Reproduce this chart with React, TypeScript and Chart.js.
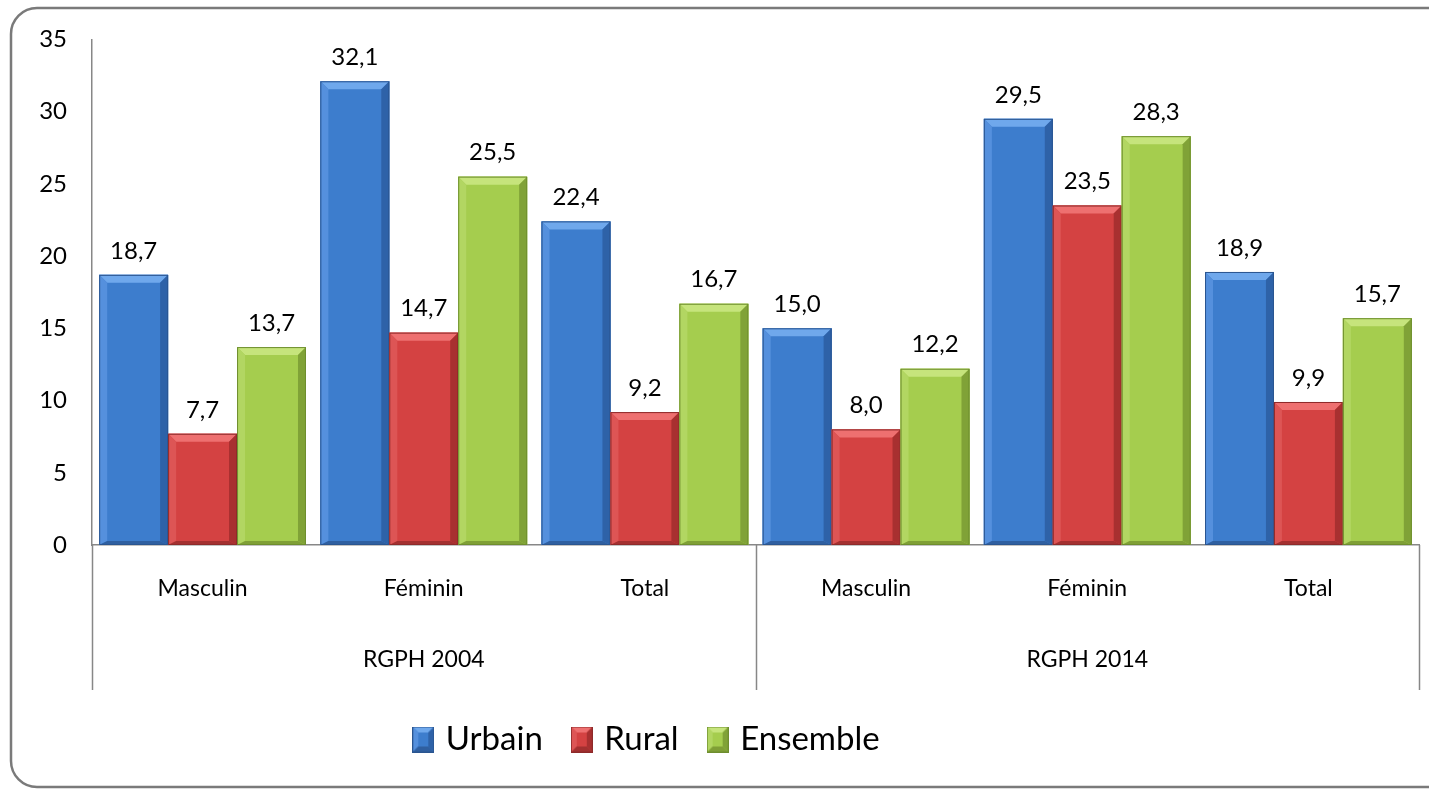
import React, { useEffect, useRef } from "react";
import { Chart, registerables } from "chart.js";

Chart.register(...registerables);

// ---- data ----
const categories = ["Masculin", "Féminin", "Total", "Masculin", "Féminin", "Total"];
const groups = ["RGPH 2004", "RGPH 2014"];
const groupSizes = [3, 3];
const seriesNames = ["Urbain", "Rural", "Ensemble"];
const urbain = [18.7, 32.1, 22.4, 15.0, 29.5, 18.9];
const rural = [7.7, 14.7, 9.2, 8.0, 23.5, 9.9];
const ensemble = [13.7, 25.5, 16.7, 12.2, 28.3, 15.7];
const yMin = 0;
const yMax = 35;
const yStep = 5;

// ---- styles ----
const FONT = "Lato, 'Open Sans', sans-serif";
const palettes = [
  { body: "#3D7DCD", top: "#6FA8EC", left: "#5590DD", right: "#2E62A8", bottom: "#2F5FA0", line: "#2A5590" },
  { body: "#D44242", top: "#EE7070", left: "#DD5555", right: "#A83030", bottom: "#A33030", line: "#8E2A2A" },
  { body: "#A5CD4E", top: "#C6E47C", left: "#B2D662", right: "#80A237", bottom: "#7F9F36", line: "#6E8E2E" },
];

function drawBevel(ctx: CanvasRenderingContext2D, left: number, top: number, right: number, bottom: number, p: any, b: number, bBottom: number) {
  const h = bottom - top;
  const bb = Math.min(b, h / 2, (right - left) / 2);
  const bl = Math.min(bBottom, h / 2);
  ctx.save();
  ctx.fillStyle = p.body;
  ctx.fillRect(left, top, right - left, h);
  // top
  ctx.fillStyle = p.top;
  ctx.beginPath();
  ctx.moveTo(left, top); ctx.lineTo(right, top); ctx.lineTo(right - bb, top + bb); ctx.lineTo(left + bb, top + bb); ctx.closePath(); ctx.fill();
  // left
  ctx.fillStyle = p.left;
  ctx.beginPath();
  ctx.moveTo(left, top); ctx.lineTo(left + bb, top + bb); ctx.lineTo(left + bb, bottom - bl); ctx.lineTo(left, bottom); ctx.closePath(); ctx.fill();
  // right
  ctx.fillStyle = p.right;
  ctx.beginPath();
  ctx.moveTo(right, top); ctx.lineTo(right - bb, top + bb); ctx.lineTo(right - bb, bottom - bl); ctx.lineTo(right, bottom); ctx.closePath(); ctx.fill();
  // bottom
  ctx.fillStyle = p.bottom;
  ctx.beginPath();
  ctx.moveTo(left, bottom); ctx.lineTo(right, bottom); ctx.lineTo(right - bb, bottom - bl); ctx.lineTo(left + bb, bottom - bl); ctx.closePath(); ctx.fill();
  ctx.strokeStyle = p.line;
  ctx.lineWidth = 1;
  ctx.strokeRect(left + 0.5, top + 0.5, right - left - 1, h - 1);
  ctx.restore();
}

function makeLegendBox(p: any) {
  const c = document.createElement("canvas");
  c.width = 22;
  c.height = 26;
  const ctx = c.getContext("2d")!;
  drawBevel(ctx, 0, 0, 22, 26, p, 6, 6);
  return c;
}

const framePlugin = {
  id: "frame",
  afterLayout(chart: any) {
    // legend sits left of centre, as in the original
    if (chart.legend) {
      chart.legend.right = chart.legend.right - 122;
    }
  },
  beforeDraw(chart: any) {
    const ctx = chart.ctx;
    ctx.save();
    ctx.fillStyle = "#ffffff";
    ctx.fillRect(0, 0, chart.width, chart.height);
    ctx.strokeStyle = "#7a7a7a";
    ctx.lineWidth = 2.5;
    ctx.beginPath();
    ctx.roundRect(11, 8, 1460, 779, 26);
    ctx.stroke();
    ctx.restore();
  },
};

const bevelPlugin = {
  id: "bevel",
  afterDatasetsDraw(chart: any) {
    const ctx = chart.ctx;
    chart.data.datasets.forEach((ds: any, di: number) => {
      const meta = chart.getDatasetMeta(di);
      meta.data.forEach((el: any) => {
        const { x, y, base, width } = el.getProps(["x", "y", "base", "width"], true);
        drawBevel(ctx, x - width / 2, y, x + width / 2, base, palettes[di], 8, 4);
      });
    });
  },
};

const valueLabelPlugin = {
  id: "valueLabels",
  afterDatasetsDraw(chart: any) {
    const ctx = chart.ctx;
    ctx.save();
    ctx.font = `24px ${FONT}`;
    ctx.fillStyle = "#000";
    ctx.textAlign = "center";
    ctx.textBaseline = "middle";
    chart.data.datasets.forEach((ds: any, di: number) => {
      const meta = chart.getDatasetMeta(di);
      meta.data.forEach((el: any, i: number) => {
        const v = ds.data[i];
        ctx.fillText(v.toFixed(1).replace(".", ","), el.x, el.y - 24);
      });
    });
    ctx.restore();
  },
};

const axisDecoPlugin = {
  id: "axisDeco",
  afterDraw(chart: any) {
    const ctx = chart.ctx;
    const xs = chart.scales.x;
    const area = chart.chartArea;
    const band = (area.right - area.left) / categories.length;
    const bottom = xs.bottom;
    ctx.save();
    ctx.strokeStyle = "#878787";
    ctx.lineWidth = 1.5;
    let idx = 0;
    const bounds = [area.left];
    groupSizes.forEach((n) => { idx += n; bounds.push(area.left + idx * band); });
    bounds.forEach((bx) => {
      ctx.beginPath();
      ctx.moveTo(Math.round(bx) + 0.5, area.bottom);
      ctx.lineTo(Math.round(bx) + 0.5, bottom);
      ctx.stroke();
    });
    ctx.font = `23px ${FONT}`;
    ctx.fillStyle = "#000";
    ctx.textAlign = "center";
    ctx.textBaseline = "middle";
    groups.forEach((g, k) => {
      ctx.fillText(g, (bounds[k] + bounds[k + 1]) / 2, area.bottom + 115);
    });
    ctx.restore();
  },
};

export default function App() {
  const ref = useRef<HTMLCanvasElement>(null);
  useEffect(() => {
    document.body.style.margin = "0";
    const canvas = ref.current!;
    const chart = new Chart(canvas, {
      type: "bar",
      data: {
        labels: categories,
        datasets: [urbain, rural, ensemble].map((d, i) => ({
          label: seriesNames[i],
          data: d,
          backgroundColor: palettes[i].body,
          borderWidth: 0,
          categoryPercentage: 0.935,
          barPercentage: 1,
          pointStyle: makeLegendBox(palettes[i]) as any,
        })),
      },
      options: {
        responsive: false,
        animation: false,
        devicePixelRatio: 1,
        layout: { padding: { top: 37, right: 10, bottom: 23, left: 0 } },
        plugins: {
          legend: {
            position: "bottom",
            labels: {
              usePointStyle: true,
              pointStyleWidth: 12,
              font: { family: FONT, size: 33 },
              color: "#000",
              padding: 33,
            },
          },
          tooltip: { enabled: false },
          title: { display: false },
        },
        scales: {
          x: {
            grid: { display: false, drawTicks: false },
            border: { display: true, color: "#878787", width: 1.5 },
            ticks: { font: { family: FONT, size: 23 }, color: "#000", padding: 30, maxRotation: 0 },
            afterFit(scale: any) { scale.height = 145; },
          },
          y: {
            min: yMin,
            max: yMax,
            grid: { display: false, drawTicks: false },
            border: { display: true, color: "#878787", width: 1.5 },
            ticks: { stepSize: yStep, font: { family: FONT, size: 24 }, color: "#000", padding: 25 },
            afterFit(scale: any) { scale.width = 92; },
          },
        },
      },
      plugins: [framePlugin, bevelPlugin, valueLabelPlugin, axisDecoPlugin],
    });
    return () => chart.destroy();
  }, []);
  return (
    <div style={{ position: "absolute", left: 0, top: 0, width: 1429, height: 789 }}>
      <canvas ref={ref} width={1429} height={789} style={{ display: "block" }} />
    </div>
  );
}
